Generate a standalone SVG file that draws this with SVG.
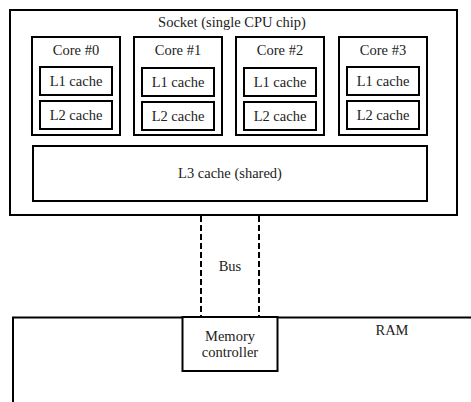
<svg xmlns="http://www.w3.org/2000/svg" width="471" height="402" viewBox="0 0 471 402">
<style>
.b{fill:#fff;stroke:#000;stroke-width:2}
.t{font-size:14.5px;fill:#222;text-anchor:middle}
.d{stroke:#000;stroke-width:2;stroke-dasharray:6,3;fill:none}
</style>
<rect width="471" height="402" fill="#fff"/>
<g font-family="Liberation Serif, DejaVu Serif, serif">
<g id="socket"><rect class="b" x="10" y="10" width="447" height="205"/><text class="t" x="232" y="27">Socket (single CPU chip)</text></g>
<g id="core0"><rect class="b" x="32" y="37" width="88" height="98"/><text class="t" x="76" y="55">Core #0</text></g>
<g id="core0-l1"><rect class="b" x="40" y="67" width="72" height="28"/><text class="t" x="76" y="86">L1 cache</text></g>
<g id="core0-l2"><rect class="b" x="40" y="101" width="72" height="28"/><text class="t" x="76" y="120">L2 cache</text></g>
<g id="core1"><rect class="b" x="134" y="37" width="88" height="98"/><text class="t" x="178" y="55">Core #1</text></g>
<g id="core1-l1"><rect class="b" x="142" y="68" width="72" height="28"/><text class="t" x="178" y="87">L1 cache</text></g>
<g id="core1-l2"><rect class="b" x="142" y="102" width="72" height="28"/><text class="t" x="178" y="121">L2 cache</text></g>
<g id="core2"><rect class="b" x="236" y="37" width="88" height="98"/><text class="t" x="280" y="55">Core #2</text></g>
<g id="core2-l1"><rect class="b" x="244" y="68" width="72" height="28"/><text class="t" x="280" y="87">L1 cache</text></g>
<g id="core2-l2"><rect class="b" x="244" y="102" width="72" height="28"/><text class="t" x="280" y="121">L2 cache</text></g>
<g id="core3"><rect class="b" x="339" y="37" width="88" height="98"/><text class="t" x="383" y="55">Core #3</text></g>
<g id="core3-l1"><rect class="b" x="347" y="67" width="72" height="28"/><text class="t" x="383" y="86">L1 cache</text></g>
<g id="core3-l2"><rect class="b" x="347" y="101" width="72" height="28"/><text class="t" x="383" y="120">L2 cache</text></g>
<g id="l3"><rect class="b" x="33" y="146" width="394" height="55"/><text class="t" x="230" y="178">L3 cache (shared)</text></g>
<g id="connectors">
<line class="d" x1="201" y1="216" x2="201" y2="317"/>
<line class="d" x1="259" y1="216" x2="259" y2="317"/>
<text class="t" x="230" y="271">Bus</text>
</g>
<g id="ram"><path d="M13,403 V317.5 H472" fill="none" stroke="#000" stroke-width="2"/><text class="t" x="392" y="335">RAM</text></g>
<g id="memctrl"><rect class="b" x="182.5" y="317" width="95" height="54"/><text class="t" x="230" y="341">Memory</text><text class="t" x="230" y="357">controller</text></g>
</g>
</svg>
